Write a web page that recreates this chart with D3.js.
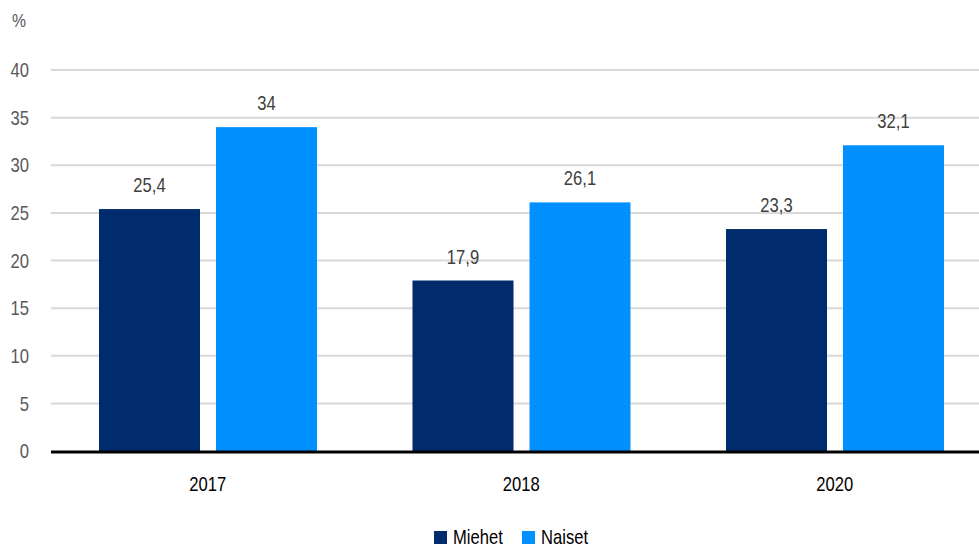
<!DOCTYPE html>
<html><head><meta charset="utf-8">
<script src="https://cdn.jsdelivr.net/npm/d3@7"></script>
<style>body{margin:0;background:#fff;} svg{display:block;}</style>
</head><body>
<svg id="chart" width="979" height="549"></svg>
<script>
const categories = ["2017", "2018", "2020"];
const seriesNames = ["Miehet", "Naiset"];
const miehet = [25.4, 17.9, 23.3];
const naiset = [34, 26.1, 32.1];
const yTicks = [0, 5, 10, 15, 20, 25, 30, 35, 40];
const valueLabels = [["25,4", "17,9", "23,3"], ["34", "26,1", "32,1"]];

(function () {
const colors = ["#002b6c", "#0091ff"];
const font = "'Liberation Sans',Arial,sans-serif";
const SX = 0.83;
const svg = d3.select("#chart");
const W = 979;
const mLeft = 51, mTop = 70, mBottom = 451;
const step = 313.5;
const tf = (x, yy) => `translate(${x},${yy}) scale(${SX},1)`;

const y = d3.scaleLinear().domain([0, 40]).range([mBottom, mTop]);
const x0 = d3.scaleBand().domain(categories).range([mLeft, mLeft + 3 * step]).paddingInner(0).paddingOuter(0);
const x1 = d3.scaleBand().domain(seriesNames).range([48, 266]).paddingInner(16 / 117);

svg.append("g").selectAll("line").data(yTicks.filter(d => d > 0)).join("line")
  .attr("x1", mLeft).attr("x2", W)
  .attr("y1", d => y(d)).attr("y2", d => y(d))
  .attr("stroke", "#d9d9d9").attr("stroke-width", 2);

svg.append("g").selectAll("text").data(yTicks).join("text")
  .attr("transform", d => tf(29, y(d))).attr("dy", "0.36em")
  .attr("text-anchor", "end").attr("font-family", font).attr("font-size", 20)
  .attr("fill", "#595959").text(d => d);

svg.append("text").attr("transform", tf(12, 27)).attr("font-family", font).attr("font-size", 19)
  .attr("fill", "#595959").text("%");

const data = [miehet, naiset];
const groups = svg.append("g").selectAll("g").data(seriesNames).join("g");
groups.each(function (s, si) {
  const g = d3.select(this);
  g.selectAll("rect").data(categories).join("rect")
    .attr("x", c => x0(c) + x1(s))
    .attr("width", x1.bandwidth())
    .attr("y", (c, i) => y(data[si][i]))
    .attr("height", (c, i) => mBottom - y(data[si][i]))
    .attr("fill", colors[si]);
  g.selectAll("text").data(categories).join("text")
    .attr("transform", (c, i) => tf(x0(c) + x1(s) + x1.bandwidth() / 2, y(data[si][i]) - 17))
    .attr("text-anchor", "middle").attr("font-family", font).attr("font-size", 20)
    .attr("fill", "#404040").text((c, i) => valueLabels[si][i]);
});

svg.append("line").attr("x1", mLeft).attr("x2", W).attr("y1", mBottom + 1).attr("y2", mBottom + 1)
  .attr("stroke", "#000").attr("stroke-width", 3);

svg.append("g").selectAll("text").data(categories).join("text")
  .attr("transform", c => tf(x0(c) + x0.bandwidth() / 2, 491))
  .attr("text-anchor", "middle").attr("font-family", font).attr("font-size", 20)
  .attr("fill", "#000").text(c => c);

const legendX = [434, 522];
const lg = svg.append("g").selectAll("g").data(seriesNames).join("g")
  .attr("transform", (d, i) => `translate(${legendX[i]},531)`);
lg.append("rect").attr("width", 13).attr("height", 13).attr("fill", (d, i) => colors[i]);
lg.append("text").attr("transform", tf(19, 13)).attr("font-family", font).attr("font-size", 20)
  .attr("fill", "#000").text(d => d);
})();
</script>
</body></html>
